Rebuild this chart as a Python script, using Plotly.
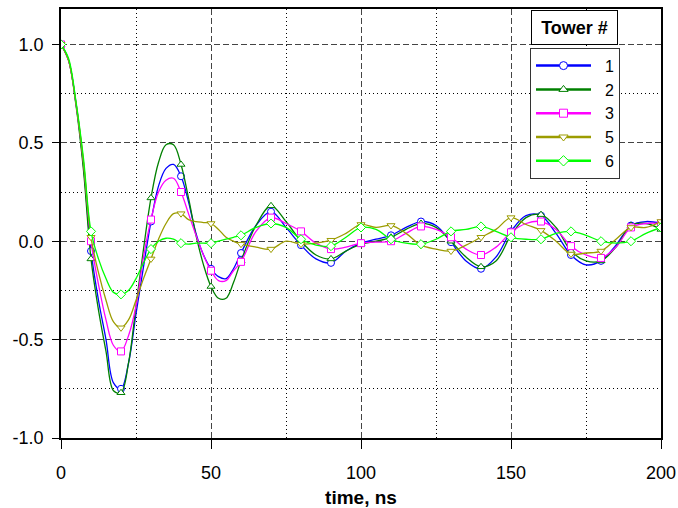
import plotly.graph_objects as go

# ---------------- data ----------------
# sampling times (ns): 2.5 ns steps up to 60 ns, then 5 ns steps
t_ns = [0, 2.5, 5, 7.5, 10, 12.5, 15, 17.5, 20, 22.5, 25, 27.5, 30, 32.5, 35,
        37.5, 40, 42.5, 45, 47.5, 50, 52.5, 55, 57.5, 60,
        65, 70, 75, 80, 85, 90, 95, 100, 105, 110, 115, 120, 125, 130, 135,
        140, 145, 150, 155, 160, 165, 170, 175, 180, 185, 190, 195, 200]
marker_times = [0, 10, 20, 30, 40, 50, 60, 70, 80, 90, 100, 110, 120, 130,
                140, 150, 160, 170, 180, 190, 200]

tower_1 = [1.0, 0.92, 0.70, 0.38, -0.05, -0.30, -0.50, -0.72, -0.75, -0.62,
           -0.37, -0.13, 0.10, 0.28, 0.37, 0.39, 0.33, 0.20, 0.04, -0.07,
           -0.14, -0.18, -0.19, -0.14, -0.06,
           0.08, 0.15, 0.07, -0.02, -0.09, -0.11, -0.05, -0.01, 0.01, 0.03,
           0.07, 0.10, 0.08, -0.005, -0.10, -0.14, -0.08, 0.05, 0.13, 0.13,
           0.04, -0.07, -0.12, -0.10, -0.02, 0.08, 0.10, 0.09]
tower_2 = [1.0, 0.92, 0.69, 0.36, -0.09, -0.35, -0.56, -0.76, -0.77, -0.62,
           -0.33, -0.04, 0.22, 0.40, 0.49, 0.49, 0.39, 0.22, 0.03, -0.12,
           -0.23, -0.29, -0.29, -0.21, -0.10,
           0.08, 0.18, 0.10, 0.00, -0.07, -0.09, -0.05, -0.015, 0.00, 0.02,
           0.06, 0.09, 0.07, 0.00, -0.08, -0.13, -0.10, 0.03, 0.12, 0.135,
           0.07, -0.05, -0.10, -0.10, -0.03, 0.08, 0.09, 0.06]
tower_3 = [1.0, 0.92, 0.70, 0.40, 0.00, -0.22, -0.40, -0.53, -0.56, -0.48,
           -0.33, -0.08, 0.11, 0.25, 0.31, 0.32, 0.25, 0.14, 0.03, -0.07,
           -0.15, -0.20, -0.20, -0.15, -0.105,
           0.05, 0.12, 0.09, 0.05, -0.01, -0.04, -0.03, -0.01, -0.005, 0.00,
           0.04, 0.075, 0.06, 0.02, -0.04, -0.07, -0.03, 0.045, 0.09, 0.10,
           0.06, -0.025, -0.07, -0.085, -0.03, 0.07, 0.09, 0.09]
tower_5 = [1.0, 0.92, 0.70, 0.40, 0.02, -0.16, -0.30, -0.41, -0.44, -0.40,
           -0.30, -0.19, -0.09, 0.01, 0.09, 0.14, 0.14, 0.11, 0.10, 0.095,
           0.09, 0.06, 0.02, 0.00, -0.015,
           -0.03, -0.04, 0.00, -0.015, -0.01, 0.005, 0.04, 0.085, 0.07, 0.08,
           0.04, -0.02, -0.04, -0.05, -0.02, 0.02, 0.06, 0.12, 0.085, 0.055,
           0.00, -0.065, -0.06, -0.05, 0.01, 0.07, 0.07, 0.10]
tower_6 = [1.0, 0.93, 0.71, 0.42, 0.05, -0.09, -0.19, -0.26, -0.27, -0.25,
           -0.19, -0.11, -0.04, 0.00, 0.015, 0.01, -0.01, -0.015, -0.01, -0.01,
           -0.01, 0.00, 0.01, 0.02, 0.03,
           0.07, 0.09, 0.07, 0.01, -0.02, -0.025, 0.02, 0.07, 0.06, 0.01,
           -0.01, -0.015, 0.01, 0.05, 0.06, 0.075, 0.05, 0.02, 0.01, 0.01,
           0.04, 0.05, 0.03, 0.00, -0.01, 0.00, 0.04, 0.07]

series_names = ["1", "2", "3", "5", "6"]
series_values = [tower_1, tower_2, tower_3, tower_5, tower_6]

x_ticks = [0, 50, 100, 150, 200]
x_minor = [25, 75, 125, 175]
y_ticks = [-1.0, -0.5, 0.0, 0.5, 1.0]
y_tick_labels = ["-1.0", "-0.5", "0.0", "0.5", "1.0"]
y_minor = [-0.75, -0.25, 0.25, 0.75]

# ---------------- styles ----------------
colors = ["#0000FF", "#008000", "#FF00FF", "#9C9C00", "#00FF00"]
symbols = ["circle", "triangle-up", "square", "triangle-down", "diamond"]
FONT = "Liberation Sans, Arial, sans-serif"
PAD = "\u00a0\u00a0"

fig = go.Figure()
for name, vals, col, sym in zip(series_names, series_values, colors, symbols):
    fig.add_trace(go.Scatter(
        x=t_ns, y=vals, mode="lines",
        line=dict(color=col, width=1.3, shape="spline", smoothing=1),
        showlegend=False, hoverinfo="skip"))
    mx = [t for t in t_ns if t in marker_times]
    my = [v for t, v in zip(t_ns, vals) if t in marker_times]
    fig.add_trace(go.Scatter(
        x=mx, y=my, mode="markers",
        marker=dict(symbol=sym, size=7, color="white",
                    line=dict(color=col, width=1)),
        showlegend=False, name=name))
# legend entries
for name, col, sym in zip(series_names, colors, symbols):
    fig.add_trace(go.Scatter(
        x=[None], y=[None], mode="lines+markers", name=PAD + name,
        line=dict(color=col, width=2.5),
        marker=dict(symbol=sym, size=8, color="white",
                    line=dict(color=col, width=1))))

axis_common = dict(
    showline=True, linecolor="black", linewidth=1.5, mirror=True,
    ticks="outside", tickcolor="black", tickwidth=1,
    showgrid=True, gridcolor="#444444", gridwidth=1, griddash="6px,3px",
    zeroline=False, automargin=False,
    tickfont=dict(family=FONT, size=18, color="black"),
)

fig.update_layout(
    width=678, height=508,
    margin=dict(l=61, r=17, t=9, b=70),
    paper_bgcolor="white", plot_bgcolor="white",
    font=dict(family=FONT, color="black"),
    xaxis=dict(
        range=[0, 200], tickmode="array", tickvals=x_ticks, ticklen=9,
        ticklabelstandoff=9,
        minor=dict(tickmode="array", tickvals=x_minor, showgrid=True,
                   gridcolor="black", gridwidth=1, griddash="1px,3px", ticks=""),
        title=dict(text="<b>time, ns</b>", font=dict(family=FONT, size=19),
                   standoff=8),
        **axis_common),
    yaxis=dict(
        range=[-1.0, 1.18], tickmode="array", tickvals=y_ticks,
        ticktext=y_tick_labels, ticklen=7, ticklabelstandoff=5,
        minor=dict(tickmode="array", tickvals=y_minor, showgrid=True,
                   gridcolor="black", gridwidth=1, griddash="1px,3px", ticks=""),
        **axis_common),
    legend=dict(
        x=(530.0 - 61) / 600, y=1 - (47.7 - 9) / 429,
        xanchor="left", yanchor="top",
        bgcolor="white", bordercolor="#333333", borderwidth=1,
        font=dict(family=FONT, size=16, color="black"),
        itemwidth=55, tracegroupgap=0,
    ),
    annotations=[dict(
        text="<b>Tower #</b>", xref="paper", yref="paper",
        x=(574.0 - 61) / 600, y=1 - (27.5 - 9) / 429,
        xanchor="center", yanchor="middle", showarrow=False,
        font=dict(family=FONT, size=18, color="black"),
        bgcolor="white", bordercolor="black", borderwidth=1,
        width=83, height=31, borderpad=1,
    )],
)

fig.write_html("out.html")
